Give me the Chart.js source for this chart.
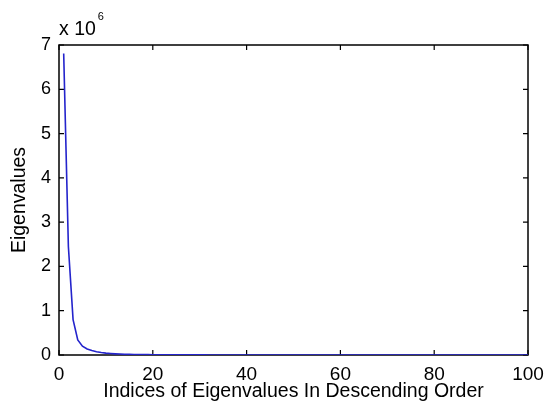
<!DOCTYPE html>
<html>
<head>
<meta charset="utf-8">
<script src="https://cdn.jsdelivr.net/npm/chart.js@4.4.1/dist/chart.umd.min.js"></script>
<style>
  html, body { margin: 0; padding: 0; background: #ffffff; }
  #wrap { width: 544px; height: 407px; }
</style>
</head>
<body>
<div id="wrap"><canvas id="chart" width="544" height="407"></canvas></div>
<script>
// Eigenvalue spectrum, indices 1..100 in descending order
const indices = [
  1, 2, 3, 4, 5, 6, 7, 8, 9, 10,
  11, 12, 13, 14, 15, 16, 17, 18, 19, 20,
  21, 22, 23, 24, 25, 26, 27, 28, 29, 30,
  31, 32, 33, 34, 35, 36, 37, 38, 39, 40,
  41, 42, 43, 44, 45, 46, 47, 48, 49, 50,
  51, 52, 53, 54, 55, 56, 57, 58, 59, 60,
  61, 62, 63, 64, 65, 66, 67, 68, 69, 70,
  71, 72, 73, 74, 75, 76, 77, 78, 79, 80,
  81, 82, 83, 84, 85, 86, 87, 88, 89, 90,
  91, 92, 93, 94, 95, 96, 97, 98, 99, 100
];
const eigenvalues = [
  6810000, 2450000, 800000, 340000, 200000, 135000, 100000, 75000, 55000, 42000,
  33000, 26000, 21000, 17000, 14000, 12000, 10000, 8600, 7400, 6400,
  5600, 4900, 4300, 3800, 3400, 3000, 2700, 2450, 2200, 2000,
  1820, 1660, 1510, 1380, 1260, 1150, 1050, 960, 880, 810,
  745, 690, 635, 585, 540, 500, 465, 430, 400, 372,
  346, 322, 300, 280, 262, 245, 229, 214, 200, 187,
  175, 164, 154, 145, 136, 128, 120, 113, 106, 100,
  94, 88, 83, 78, 73, 69, 65, 61, 57, 54,
  51, 48, 45, 42, 40, 37, 35, 33, 31, 29,
  27, 25, 23, 21, 19, 17, 15, 13, 11, 9
];
const xTicks = [0, 20, 40, 60, 80, 100];
const yTicks = [0, 1000000, 2000000, 3000000, 4000000, 5000000, 6000000, 7000000];
const yScaleFactor = 1000000;
const yExponentText = ['x 10', '6'];
const xTitle = 'Indices of Eigenvalues In Descending Order';
const yTitle = 'Eigenvalues';

const FONT = "'Liberation Sans', Arial, Helvetica, sans-serif";
const TICK_LEN = 5;

// Box around the axes with inward tick marks on all four sides, plus the axis multiplier
const boxAxes = {
  id: 'boxAxes',
  beforeDatasetsDraw(chart) {
    const {ctx, chartArea: a, scales: {x, y}} = chart;
    ctx.save();
    ctx.strokeStyle = '#000000';
    ctx.lineWidth = 1.5;
    ctx.strokeRect(a.left, a.top, a.right - a.left, a.bottom - a.top);
    ctx.lineWidth = 1.2;
    ctx.beginPath();
    xTicks.forEach(v => {
      const px = x.getPixelForValue(v);
      ctx.moveTo(px, a.bottom); ctx.lineTo(px, a.bottom - TICK_LEN);
      ctx.moveTo(px, a.top); ctx.lineTo(px, a.top + TICK_LEN);
    });
    yTicks.forEach(v => {
      const py = y.getPixelForValue(v);
      ctx.moveTo(a.left, py); ctx.lineTo(a.left + TICK_LEN, py);
      ctx.moveTo(a.right, py); ctx.lineTo(a.right - TICK_LEN, py);
    });
    ctx.stroke();
    ctx.restore();
  },
  afterDraw(chart) {
    const {ctx, chartArea: a} = chart;
    ctx.save();
    ctx.fillStyle = '#000000';
    ctx.textBaseline = 'alphabetic';
    ctx.textAlign = 'left';
    ctx.font = '19.5px ' + FONT;
    ctx.fillText(yExponentText[0], a.left, a.top - 10);
    const w = ctx.measureText(yExponentText[0]).width;
    ctx.font = '11px ' + FONT;
    ctx.fillText(yExponentText[1], a.left + w + 2, a.top - 25);
    ctx.restore();
  }
};

new Chart(document.getElementById('chart'), {
  type: 'line',
  data: {
    labels: indices,
    datasets: [{
      data: indices.map((v, i) => ({x: v, y: eigenvalues[i]})),
      borderColor: '#2424cc',
      borderWidth: 1.6,
      pointRadius: 0,
      tension: 0,
      fill: false
    }]
  },
  options: {
    responsive: false,
    animation: false,
    events: [],
    layout: { padding: { top: 45, right: 16, left: 0, bottom: 0 } },
    plugins: { legend: { display: false }, tooltip: { enabled: false } },
    scales: {
      x: {
        type: 'linear',
        min: 0, max: 100,
        border: { display: false },
        grid: { display: false, drawTicks: false },
        afterBuildTicks(scale) { scale.ticks = xTicks.map(v => ({value: v})); },
        ticks: {
          maxRotation: 0,
          padding: 8,
          color: '#000000',
          font: { family: FONT, size: 19 },
          callback: v => String(v)
        },
        title: {
          display: true,
          text: xTitle,
          color: '#000000',
          font: { family: FONT, size: 19.5 },
          padding: { top: 0, bottom: 4 }
        },
        afterFit(scale) {
          scale.height = 52;
          scale.paddingLeft = 0; scale.paddingRight = 0;
        }
      },
      y: {
        type: 'linear',
        min: 0, max: 7000000,
        border: { display: false },
        grid: { display: false, drawTicks: false },
        afterBuildTicks(scale) { scale.ticks = yTicks.map(v => ({value: v})); },
        ticks: {
          padding: 8,
          color: '#000000',
          font: { family: FONT, size: 18 },
          callback: v => String(v / yScaleFactor)
        },
        title: {
          display: true,
          text: yTitle,
          color: '#000000',
          font: { family: FONT, size: 19.5 },
          padding: { top: 8, bottom: 0 }
        },
        afterFit(scale) {
          scale.width = 59;
          scale.paddingTop = 0; scale.paddingBottom = 0;
        }
      }
    }
  },
  plugins: [boxAxes]
});
</script>
</body>
</html>
